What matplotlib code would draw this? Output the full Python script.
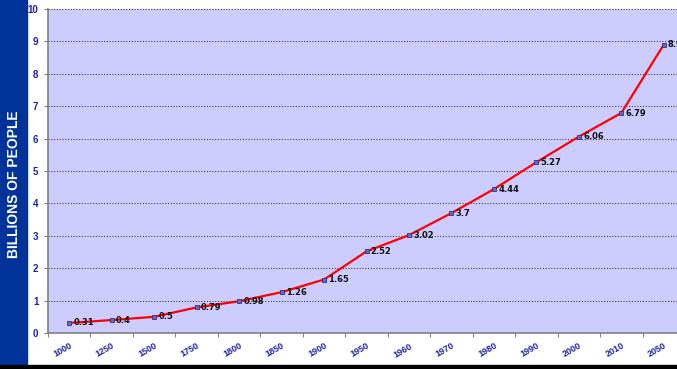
import matplotlib
matplotlib.use('Agg')
import matplotlib.pyplot as plt
from matplotlib.patches import Rectangle

# world population, billions
years = ['1000', '1250', '1500', '1750', '1800', '1850', '1900', '1950',
         '1960', '1970', '1980', '1990', '2000', '2010', '2050']
population = [0.31, 0.4, 0.5, 0.79, 0.98, 1.26, 1.65, 2.52,
              3.02, 3.7, 4.44, 5.27, 6.06, 6.79, 8.9]
value_labels = ['0.31', '0.4', '0.5', '0.79', '0.98', '1.26', '1.65', '2.52',
                '3.02', '3.7', '4.44', '5.27', '6.06', '6.79', '8.9']

W, H = 677, 369
fig = plt.figure(figsize=(W / 100, H / 100), dpi=100)
fig.patch.set_facecolor('white')

# blue band with the axis title, black strip at the bottom
fig.patches.append(Rectangle((0, 0), 27 / W, 1, transform=fig.transFigure,
                             color='#003399', zorder=0))
fig.patches.append(Rectangle((0, 0), 1, 4 / H, transform=fig.transFigure,
                             color='black', zorder=1))
fig.text(14 / W, 0.5, 'BILLIONS OF PEOPLE', rotation=90, color='white',
         fontsize=10, fontweight='bold', family='Liberation Sans',
         ha='center', va='center')

ax = fig.add_axes([48 / W, 36 / H, 637 / W, 324 / H])
ax.set_facecolor('#ccccff')

x = range(len(years))
ax.plot(x, population, color='#ff0000', lw=1.6, zorder=3)
ax.plot(x, population, ls='none', marker='s', ms=3.5, mfc='#6666cc',
        mec='#333377', mew=0.6, zorder=4)
for xi, v, t in zip(x, population, value_labels):
    ax.annotate(t, (xi, v), xytext=(3, 0), textcoords='offset points',
                fontsize=6, fontweight='bold', color='#111111',
                va='center', ha='left', zorder=5)

ax.set_xlim(-0.5, len(years) - 0.5)
ax.set_ylim(0, 10)
ax.set_yticks(range(0, 11))
ax.yaxis.grid(True, ls=(0, (1, 1.5)), color='#444444', lw=0.8)
ax.set_axisbelow(True)

ax.set_xticks([i - 0.5 for i in range(len(years) + 1)])
ax.set_xticklabels([])
ax.set_xticks(list(x), minor=True)
ax.set_xticklabels(years, minor=True, rotation=30, ha='right',
                   rotation_mode='anchor', fontsize=6.5, fontweight='bold',
                   color='#2020a0', family='Liberation Sans')
ax.tick_params(axis='x', which='minor', length=0, pad=6)
ax.tick_params(axis='x', which='major', length=3, color='#808080')
ax.tick_params(axis='y', length=3, color='#808080', labelsize=7,
               labelcolor='#2020a0', pad=4)
for lab in ax.get_yticklabels():
    lab.set_fontweight('bold')
    lab.set_family('Liberation Sans')

for s in ['top', 'right']:
    ax.spines[s].set_visible(False)
for s in ['left', 'bottom']:
    ax.spines[s].set_color('#808080')
    ax.spines[s].set_linewidth(1.2)

fig.savefig('out.png', dpi=100)
